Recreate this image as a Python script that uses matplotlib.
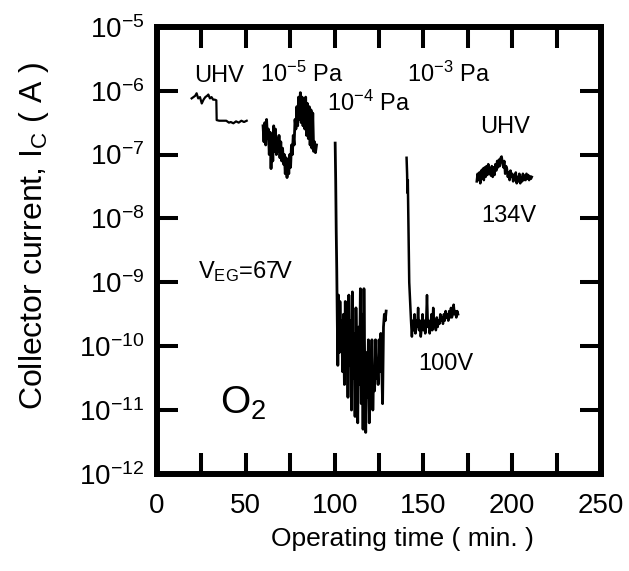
import numpy as np
import matplotlib
matplotlib.use("Agg")
import matplotlib.pyplot as plt
from matplotlib.ticker import MultipleLocator, LogLocator, NullLocator

plt.rcParams['font.family'] = ['Liberation Sans', 'DejaVu Sans']
plt.rcParams['mathtext.fontset'] = 'custom'
plt.rcParams['mathtext.rm'] = 'Liberation Sans'
plt.rcParams['mathtext.it'] = 'Liberation Sans'
plt.rcParams['mathtext.default'] = 'regular'

# collector current, stored as log10(I / A)
# UHV, V_EG = 67 V
t_uhv1 = [19.5, 20.5, 21.5, 22.3, 23.2, 24.2, 25.2, 26.2, 27.2, 28.2, 28.9, 29.8,
          30.7, 31.6, 32.5, 33.4, 33.6, 35.0, 37.0, 39.0, 40.5, 41.5, 43.0, 44.5,
          46.0, 47.5, 49.0, 50.5]
log_uhv1 = [-6.12, -6.10, -6.08, -6.04, -6.12, -6.10, -6.20, -6.14, -6.10, -6.08, -6.06, -6.12,
            -6.10, -6.14, -6.14, -6.15, -6.46, -6.47, -6.47, -6.47, -6.50, -6.49, -6.51, -6.48,
            -6.50, -6.47, -6.49, -6.47]

# 1e-5 Pa O2
t_p5 = [59.7, 60.2, 60.7, 61.2, 61.7, 62.2, 62.7, 63.2, 63.7, 64.2, 64.7, 65.2,
        65.7, 66.2, 66.7, 67.2, 67.7, 68.2, 68.7, 69.2, 69.7, 70.2, 70.7, 71.2,
        71.7, 72.2, 72.7, 73.2, 73.7, 74.2, 74.7, 75.2, 75.7, 76.2, 76.7, 77.2,
        77.7, 78.2, 78.7, 79.2, 79.7, 80.2, 80.7, 81.2, 81.7, 82.2, 82.7, 83.2,
        83.7, 84.2, 84.7, 85.2, 85.7, 86.2, 86.7, 87.2, 87.7, 88.2, 88.7, 89.2, 89.8]
log_p5 = [-6.55, -6.80, -6.50, -6.85, -6.45, -6.75, -6.60, -7.00, -6.65, -7.22, -6.70, -7.10,
          -6.55, -6.95, -6.60, -7.00, -6.75, -6.95, -6.70, -7.05, -6.80, -7.10, -6.90, -7.15,
          -7.00, -7.30, -7.05, -7.36, -7.10, -7.30, -7.00, -7.20, -6.85, -7.00, -6.70, -6.85,
          -6.45, -6.60, -6.25, -6.55, -6.10, -6.45, -6.03, -6.50, -6.10, -6.55, -6.15, -6.60,
          -6.10, -6.70, -6.20, -6.75, -6.25, -6.85, -6.30, -6.90, -6.35, -6.95, -6.80, -6.97, -6.85]

# 1e-4 Pa O2
t_p4 = [100.3, 100.6, 100.9, 101.2, 101.5, 101.8, 102.2, 102.6, 103.0, 103.5, 104.0, 104.5,
        105.0, 105.5, 106.0, 106.5, 107.0, 107.5, 108.0, 108.5, 109.0, 109.5, 110.0, 110.5,
        111.0, 111.5, 112.0, 112.5, 113.0, 113.5, 114.0, 114.5, 115.0, 115.5, 116.0, 116.5,
        117.0, 117.5, 118.0, 118.5, 119.0, 119.5, 120.0, 120.5, 121.0, 121.5, 122.0, 122.5,
        123.0, 123.5, 124.0, 124.5, 125.0, 125.5, 126.0, 126.5, 127.0, 127.5, 128.0, 128.5, 129.0]
log_p4 = [-6.82, -7.40, -8.20, -8.80, -9.60, -10.30, -9.20, -10.10, -9.30, -9.90, -9.60, -10.40,
          -9.50, -10.60, -9.30, -10.20, -9.70, -10.80, -9.20, -10.30, -9.60, -11.00, -9.15, -10.50,
          -9.80, -11.10, -9.40, -10.20, -11.20, -9.70, -10.60, -9.10, -10.90, -9.50, -11.30, -9.10,
          -10.40, -11.35, -10.10, -10.80, -9.90, -11.20, -10.30, -10.60, -9.90, -11.00, -10.40, -10.70,
          -9.90, -10.50, -10.20, -10.60, -9.90, -10.40, -9.80, -10.30, -10.90, -9.70, -9.50, -9.60, -9.45]

# 1e-3 Pa O2, V_EG = 100 V
t_p3 = [140.5, 140.8, 141.0, 141.2, 141.5, 141.8, 142.0, 142.5, 143.0, 143.5, 144.0, 144.5,
        145.0, 145.5, 146.0, 146.5, 147.0, 147.5, 148.0, 148.5, 149.0, 149.5, 150.0, 150.5,
        151.0, 151.5, 152.0, 152.5, 153.0, 153.5, 154.0, 154.5, 155.0, 155.5, 156.0, 156.5,
        157.0, 157.5, 158.0, 158.5, 159.0, 159.5, 160.0, 160.5, 161.0, 161.5, 162.0, 162.5,
        163.0, 163.5, 164.0, 164.5, 165.0, 165.5, 166.0, 166.5, 167.0, 167.5, 168.0, 168.5,
        169.0, 169.5]
log_p3 = [-7.05, -7.30, -7.60, -7.40, -8.00, -8.60, -9.00, -9.30, -9.60, -9.85, -9.60, -9.75,
          -9.50, -9.80, -9.60, -9.70, -9.40, -9.75, -9.60, -9.85, -9.70, -9.50, -9.75, -9.60,
          -9.80, -9.65, -9.20, -9.70, -9.60, -9.80, -9.70, -9.50, -9.75, -9.40, -9.70, -9.60,
          -9.75, -9.55, -9.70, -9.60, -9.65, -9.50, -9.60, -9.55, -9.65, -9.50, -9.60, -9.45,
          -9.55, -9.50, -9.60, -9.45, -9.55, -9.40, -9.55, -9.50, -9.35, -9.50, -9.45, -9.55,
          -9.45, -9.50]

# UHV, V_EG = 134 V
t_uhv2 = [180.0, 180.5, 181.0, 181.5, 182.0, 182.5, 183.0, 183.5, 184.0, 184.5, 185.0, 185.5,
          186.0, 186.5, 187.0, 187.5, 188.0, 188.5, 189.0, 189.5, 190.0, 190.5, 191.0, 191.5,
          192.0, 192.5, 193.0, 193.5, 194.0, 194.5, 195.0, 195.5, 196.0, 196.5, 197.0, 197.5,
          198.0, 198.5, 199.0, 199.5, 200.0, 200.5, 201.0, 201.5, 202.0, 202.5, 203.0, 203.5,
          204.0, 204.5, 205.0, 205.5, 206.0, 206.5, 207.0, 207.5, 208.0, 208.5, 209.0, 209.5,
          210.0, 210.5, 211.0]
log_uhv2 = [-7.42, -7.30, -7.40, -7.28, -7.45, -7.25, -7.38, -7.22, -7.40, -7.20, -7.35, -7.18,
            -7.32, -7.15, -7.30, -7.22, -7.33, -7.18, -7.35, -7.20, -7.32, -7.15, -7.25, -7.10,
            -7.20, -7.08, -7.18, -7.05, -7.03, -7.12, -7.20, -7.10, -7.30, -7.18, -7.22, -7.35,
            -7.28, -7.40, -7.25, -7.35, -7.30, -7.42, -7.32, -7.40, -7.28, -7.45, -7.35, -7.42,
            -7.30, -7.45, -7.35, -7.42, -7.30, -7.40, -7.33, -7.40, -7.30, -7.38, -7.32, -7.40,
            -7.34, -7.38, -7.35]

segments = [(t_uhv1, log_uhv1, 1.6), (t_p5, log_p5, 2.0), (t_p4, log_p4, 2.0),
            (t_p3, log_p3, 1.8), (t_uhv2, log_uhv2, 1.8)]

fig = plt.figure(figsize=(6.29, 5.71), dpi=100)
ax = fig.add_axes([0.2496, 0.170, 0.706, 0.783])

for t, lg, lw in segments:
    ax.semilogy(t, 10.0 ** np.array(lg), color='black', lw=lw)

ax.set_xlim(0, 250)
ax.set_ylim(1e-12, 1e-5)
ax.xaxis.set_major_locator(MultipleLocator(50))
ax.xaxis.set_minor_locator(MultipleLocator(25))
ax.yaxis.set_major_locator(LogLocator(base=10, numticks=20))
ax.yaxis.set_minor_locator(NullLocator())

for s in ax.spines.values():
    s.set_linewidth(4.3)
ax.tick_params(which='both', direction='in', top=True, right=True,
               length=15, width=2.9, labelsize=20)
ax.tick_params(axis='x', pad=14)
ax.tick_params(axis='y', pad=9)

ax.set_xlabel('Operating time ( min. )', fontsize=19)
ax.set_ylabel('Collector current, I$_C$ ( A )', fontsize=23)
ax.xaxis.set_label_coords(0.552, -0.118)
ax.yaxis.set_label_coords(-0.238, 0.532)

ann = 17
ax.text(21.0, 10 ** -5.856, 'UHV', fontsize=ann, va='baseline')
ax.text(58.0, 10 ** -5.856, '10$^{-5}$ Pa', fontsize=ann, va='baseline')
ax.text(95.5, 10 ** -6.31, '10$^{-4}$ Pa', fontsize=ann, va='baseline')
ax.text(140.6, 10 ** -5.856, '10$^{-3}$ Pa', fontsize=ann, va='baseline')
ax.text(181.9, 10 ** -6.66, 'UHV', fontsize=ann, va='baseline')
ax.text(182.8, 10 ** -8.06, '134V', fontsize=ann, va='baseline')
ax.text(147.2, 10 ** -10.38, '100V', fontsize=ann, va='baseline')
ax.text(23.3, 10 ** -8.93, 'V$_{EG}$=67V', fontsize=ann, va='baseline')
ax.text(35.5, 10 ** -11.05, 'O$_2$', fontsize=28, va='baseline')

fig.savefig('out.png', dpi=100)
